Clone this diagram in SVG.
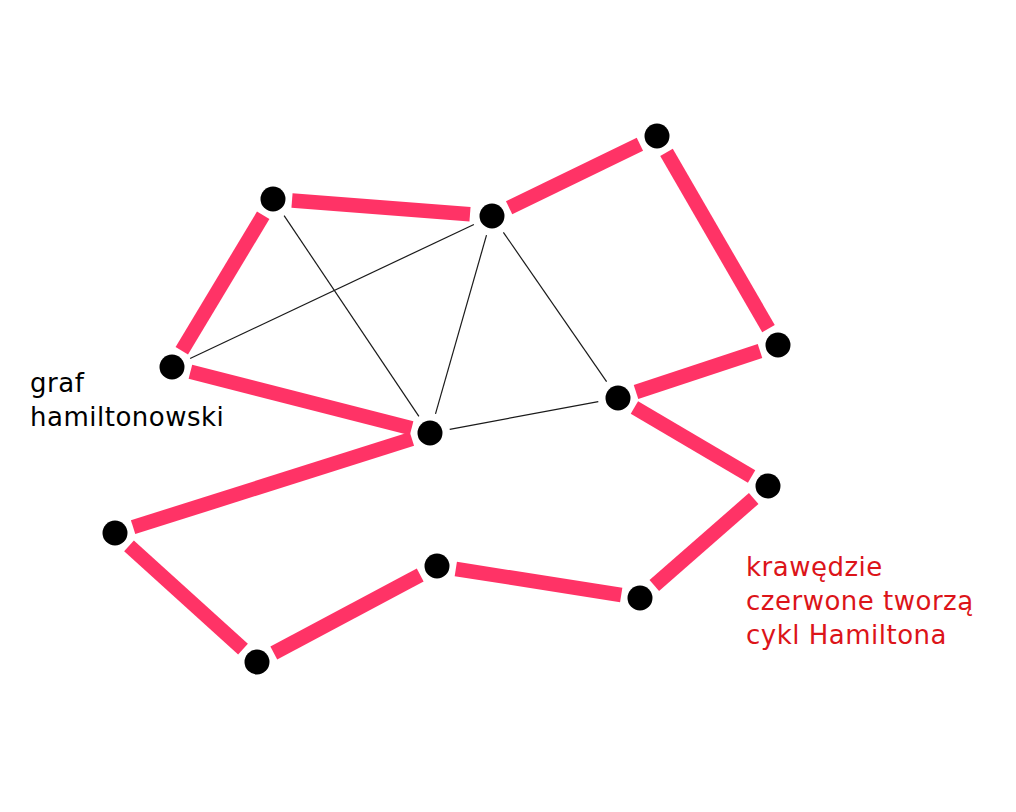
<svg xmlns="http://www.w3.org/2000/svg" width="1016" height="812" viewBox="0 0 1016 812">
<style>
.cyc{stroke:#ff3366;stroke-width:14.5;stroke-linecap:butt;fill:none}
.thin{stroke:#1a1a1a;stroke-width:1.2;fill:none}
.node{fill:#000}
.lbl{font-family:"DejaVu Sans",Verdana,sans-serif;font-size:26px;letter-spacing:0.5px}
</style>
<rect width="1016" height="812" fill="#fff"/>
<g id="connectors">
<line class="thin" x1="284.1" y1="215.6" x2="418.9" y2="416.4"/>
<line class="thin" x1="190.1" y1="358.5" x2="473.9" y2="224.5"/>
<line class="thin" x1="486.5" y1="235.2" x2="435.5" y2="413.8"/>
<line class="thin" x1="503.4" y1="232.4" x2="606.6" y2="381.6"/>
<line class="thin" x1="449.7" y1="429.3" x2="598.3" y2="401.7"/>
<line class="cyc" x1="292" y1="200.5" x2="470" y2="214.3"/>
<line class="cyc" x1="509.1" y1="207.7" x2="639.9" y2="144.3"/>
<line class="cyc" x1="666.5" y1="152.4" x2="768.5" y2="328.6"/>
<line class="cyc" x1="760" y1="351" x2="636" y2="392"/>
<line class="cyc" x1="634.4" y1="407.6" x2="751.6" y2="476.4"/>
<line class="cyc" x1="753.7" y1="498.5" x2="654.3" y2="585.5"/>
<line class="cyc" x1="621.2" y1="595" x2="455.8" y2="569"/>
<line class="cyc" x1="420.2" y1="575" x2="273.8" y2="653"/>
<line class="cyc" x1="243" y1="649.2" x2="129" y2="545.8"/>
<line class="cyc" x1="133.1" y1="527.2" x2="411.9" y2="438.8"/>
<line class="cyc" x1="411.6" y1="428.3" x2="190.4" y2="371.7"/>
<line class="cyc" x1="181.8" y1="350.7" x2="263.2" y2="215.3"/>
</g>
<g id="nA"><circle class="node" cx="273" cy="199" r="12.5"/></g>
<g id="nB"><circle class="node" cx="492" cy="216" r="12.5"/></g>
<g id="nC"><circle class="node" cx="657" cy="136" r="12.5"/></g>
<g id="nD"><circle class="node" cx="778" cy="345" r="12.5"/></g>
<g id="nE"><circle class="node" cx="618" cy="398" r="12.5"/></g>
<g id="nF"><circle class="node" cx="768" cy="486" r="12.5"/></g>
<g id="nG"><circle class="node" cx="640" cy="598" r="12.5"/></g>
<g id="nH"><circle class="node" cx="437" cy="566" r="12.5"/></g>
<g id="nI"><circle class="node" cx="257" cy="662" r="12.5"/></g>
<g id="nJ"><circle class="node" cx="115" cy="533" r="12.5"/></g>
<g id="nK"><circle class="node" cx="430" cy="433" r="12.5"/></g>
<g id="nL"><circle class="node" cx="172" cy="367" r="12.5"/></g>
<g id="label-graf">
<text class="lbl" fill="#000" x="30" y="392">graf</text>
<text class="lbl" fill="#000" x="30" y="426">hamiltonowski</text>
</g>
<g id="label-cykl">
<text class="lbl" fill="#dc1419" x="746" y="576">krawędzie</text>
<text class="lbl" fill="#dc1419" x="746" y="610">czerwone tworzą</text>
<text class="lbl" fill="#dc1419" x="746" y="644">cykl Hamiltona</text>
</g>
</svg>
